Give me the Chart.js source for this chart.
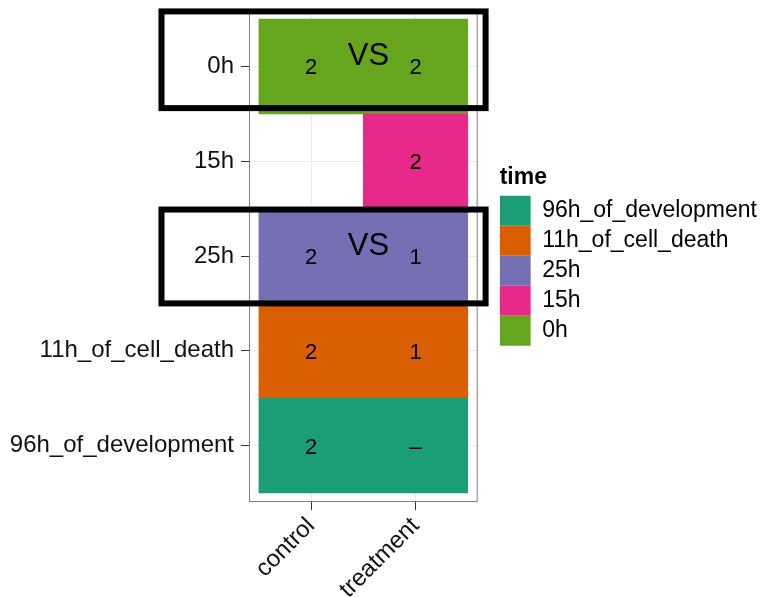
<!DOCTYPE html>
<html>
<head>
<meta charset="utf-8">
<script src="https://cdn.jsdelivr.net/npm/chart.js@4.4.0/dist/chart.umd.min.js"></script>
<style>
  html, body { margin: 0; padding: 0; background: #fff; }
  #wrap { width: 767px; height: 597px; }
</style>
</head>
<body>
<div id="wrap"><canvas id="tileChart" width="767" height="597"></canvas></div>
<script>
// y rows, bottom to top
const times = ['96h_of_development', '11h_of_cell_death', '25h', '15h', '0h'];
const groups = ['control', 'treatment'];
const timeColors = ['#1B9E77', '#D95F02', '#7570B3', '#E7298A', '#66A61E'];
// text in each cell, null = no tile there
const controlCounts = ['2', '2', '2', null, '2'];
const treatmentCounts = ['\u2013', '1', '1', '2', '2'];
// rows that are boxed and marked "VS"
const compareRows = ['0h', '25h'];

const FONT = '"Liberation Sans", Arial, Helvetica, sans-serif';

// one tile span per time: from first to last group that has a cell
const datasets = times.map((t, i) => {
    const cells = [controlCounts[i], treatmentCounts[i]];
    const idx = cells.map((c, g) => c !== null ? g + 1 : null).filter(g => g !== null);
    return {
        label: t,
        data: [{ x: [Math.min(...idx) - 0.5, Math.max(...idx) + 0.5], y: i + 1 }],
        backgroundColor: timeColors[i],
        borderWidth: 0,
        barPercentage: 1,
        categoryPercentage: 1
    };
});

const overlay = {
    id: 'overlay',
    afterDatasetsDraw(chart) {
        const { ctx, chartArea, scales: { x, y } } = chart;
        ctx.save();
        // panel border
        ctx.strokeStyle = '#7f7f7f';
        ctx.lineWidth = 1;
        ctx.strokeRect(chartArea.left + 0.5, chartArea.top + 0.5, chartArea.width - 1, chartArea.height - 1);

        // cell labels
        ctx.fillStyle = '#000';
        ctx.textAlign = 'center';
        ctx.textBaseline = 'middle';
        ctx.font = '22px ' + FONT;
        [controlCounts, treatmentCounts].forEach((arr, g) => {
            arr.forEach((txt, i) => {
                if (txt === null) return;
                ctx.fillText(txt, x.getPixelForValue(g + 1), y.getPixelForValue(i + 1) + 2);
            });
        });

        // VS boxes
        const ext = { '0h': [0.58, 0.44], '25h': [0.49, 0.5] };
        compareRows.forEach(r => {
            const v = times.indexOf(r) + 1;
            const [up, down] = ext[r];
            const l = x.getPixelForValue(-0.433), rr = x.getPixelForValue(2.671);
            const t = y.getPixelForValue(v + up), b = y.getPixelForValue(v - down);
            ctx.strokeStyle = '#000';
            ctx.lineWidth = 6;
            ctx.strokeRect(l, t, rr - l, b - t);
            ctx.font = '31px ' + FONT;
            ctx.fillText('VS', x.getPixelForValue(1.55), y.getPixelForValue(v + 0.1));
        });
        ctx.restore();
    }
};

new Chart(document.getElementById('tileChart'), {
    type: 'bar',
    data: { datasets },
    options: {
        indexAxis: 'y',
        responsive: false,
        animation: false,
        devicePixelRatio: 1,
        grouped: false,
        layout: { padding: { top: 10, left: 0, right: 0, bottom: 0 } },
        scales: {
            x: {
                type: 'linear',
                offset: false,
                min: 0.405,
                max: 2.595,
                afterBuildTicks: s => { s.ticks = groups.map((g, i) => ({ value: i + 1 })); },
                afterFit: s => { s.height = 95; s.paddingLeft = 0; s.paddingRight = 0; },
                ticks: {
                    callback: v => groups[v - 1],
                    color: '#111',
                    font: { size: 24, family: FONT },
                    minRotation: 45,
                    maxRotation: 45,
                    padding: 2
                },
                grid: { offset: false, color: '#ebebeb', tickColor: '#333', tickLength: 8, lineWidth: 1 },
                border: { display: false }
            },
            y: {
                type: 'linear',
                offset: false,
                min: 0.405,
                max: 5.595,
                afterBuildTicks: s => { s.ticks = times.map((t, i) => ({ value: i + 1 })); },
                afterFit: s => { s.width = 249; s.paddingTop = 0; s.paddingBottom = 0; },
                ticks: {
                    callback: v => times[v - 1],
                    color: '#111',
                    font: { size: 24, family: FONT },
                    padding: 7
                },
                grid: { offset: false, color: '#ebebeb', tickColor: '#333', tickLength: 8, lineWidth: 1 },
                border: { display: false }
            },
            gap: {
                axis: 'y',
                type: 'linear',
                position: 'right',
                display: true,
                grid: { display: false },
                ticks: { display: false },
                border: { display: false },
                afterFit: s => { s.width = 22; }
            }
        },
        plugins: {
            tooltip: { enabled: false },
            legend: {
                position: 'right',
                align: 'center',
                fullSize: false,
                maxWidth: 320,
                title: {
                    display: true,
                    text: 'time',
                    position: 'start',
                    color: '#000',
                    font: { size: 23, weight: 'bold', family: FONT },
                    padding: { top: 0, bottom: 2 }
                },
                labels: {
                    boxWidth: 31,
                    boxHeight: 30,
                    padding: 0,
                    color: '#000',
                    font: { size: 23, family: FONT }
                }
            }
        }
    },
    plugins: [overlay]
});
</script>
</body>
</html>
